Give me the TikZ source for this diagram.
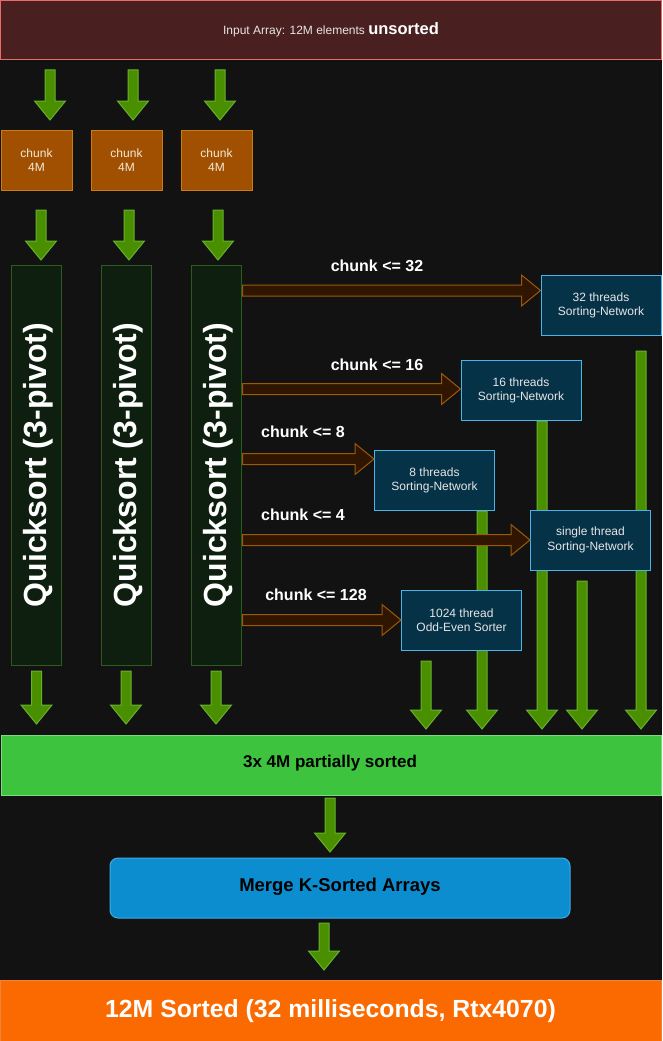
\documentclass[tikz,border=0pt]{standalone}
\usepackage{fontspec}
\setmainfont{Liberation Sans}
\usetikzlibrary{calc}
\definecolor{bg}{HTML}{121212}
\definecolor{inpfill}{HTML}{4A1F1F}
\definecolor{inpdraw}{HTML}{EA6B66}
\definecolor{chfill}{HTML}{A05000}
\definecolor{chdraw}{HTML}{C97D14}
\definecolor{chtext}{HTML}{F4EAD8}
\definecolor{gafill}{HTML}{4A8F00}
\definecolor{gadraw}{HTML}{66B22C}
\definecolor{qsfill}{HTML}{0F1F0F}
\definecolor{qsdraw}{HTML}{2D5A1E}
\definecolor{bafill}{HTML}{301600}
\definecolor{badraw}{HTML}{9A5A0A}
\definecolor{snfill}{HTML}{063247}
\definecolor{sndraw}{HTML}{4AB4E6}
\definecolor{sntext}{HTML}{E6E6E6}
\definecolor{partfill}{HTML}{3DC33D}
\definecolor{partdraw}{HTML}{7EDA7E}
\definecolor{mergefill}{HTML}{0B8DCF}
\definecolor{mergedraw}{HTML}{42A8E6}
\definecolor{finfill}{HTML}{FA6A00}
\definecolor{findraw}{HTML}{F2823A}
\tikzset{
  box/.style={draw, line width=1pt, inner sep=0pt, align=center},
  inpbox/.style={box, fill=inpfill, draw=inpdraw, minimum width=661pt, minimum height=59.5pt},
  chunkbox/.style={box, fill=chfill, draw=chdraw, text=chtext, minimum width=71pt, minimum height=60pt,
     font=\fontsize{12}{14.5}\selectfont},
  qsbox/.style={box, fill=qsfill, draw=qsdraw, minimum width=50pt, minimum height=400pt},
  qstext/.style={rotate=90, text=white, font=\fontsize{32}{36}\selectfont\bfseries},
  snbox/.style={box, fill=snfill, draw=sndraw, text=sntext, minimum width=120pt, minimum height=60pt,
     font=\fontsize{12}{14.5}\selectfont},
  lbl/.style={text=white, font=\fontsize{16}{18}\selectfont\bfseries},
  garrow/.style={fill=gafill, draw=gadraw, line width=1pt, line join=miter},
  barrow/.style={fill=bafill, draw=badraw, line width=1pt, line join=miter},
}
\newcommand\greenarrow[2]{%
  \draw[garrow] let \p1=(#1), \p2=(#2) in
    (\x1-5pt,\y1) -- (\x1-5pt,\y2+19pt) -- (\x1-15.5pt,\y2+19pt) -- (\x1,\y2)
    -- (\x1+15.5pt,\y2+19pt) -- (\x1+5pt,\y2+19pt) -- (\x1+5pt,\y1) -- cycle;}
\newcommand\brownarrow[3]{%
  \draw[barrow] let \p1=(#1), \p2=(#2), \p3=(0,#3) in
    (\x1+1pt,\y3+5.5pt) -- (\x2-19pt,\y3+5.5pt) -- (\x2-19pt,\y3+15.5pt) -- (\x2,\y3)
    -- (\x2-19pt,\y3-15.5pt) -- (\x2-19pt,\y3-5.5pt) -- (\x1+1pt,\y3-5.5pt) -- cycle;}
\begin{document}
\begin{tikzpicture}[x=1pt,y=-1pt]
\fill[bg] (0,0) rectangle (662,1041);
\useasboundingbox (0,0) rectangle (662,1041);

% free ends of the block arrows
\coordinate (t1s) at (50,70);   \coordinate (t1e) at (50,120);
\coordinate (t2s) at (133,70);  \coordinate (t2e) at (133,120);
\coordinate (t3s) at (220,70);  \coordinate (t3e) at (220,120);
\coordinate (c1s) at (41,210);  \coordinate (c1e) at (41,260);
\coordinate (c2s) at (129,210); \coordinate (c2e) at (129,260);
\coordinate (c3s) at (218,210); \coordinate (c3e) at (218,260);
\coordinate (q1s) at (36.5,671); \coordinate (q1e) at (36.5,724);
\coordinate (q2s) at (126,671);  \coordinate (q2e) at (126,724);
\coordinate (q3s) at (216,671);  \coordinate (q3e) at (216,724);
\coordinate (r1s) at (426,661); \coordinate (r1e) at (426,729);
\coordinate (r2s) at (482,511); \coordinate (r2e) at (482,729);
\coordinate (r3s) at (542,421); \coordinate (r3e) at (542,729);
\coordinate (r4s) at (582,581); \coordinate (r4e) at (582,729);
\coordinate (r5s) at (641,351); \coordinate (r5e) at (641,729);
\coordinate (m1s) at (330,798); \coordinate (m1e) at (330,852);
\coordinate (f1s) at (324,923); \coordinate (f1e) at (324,970);

% arrows that pass behind boxes
\greenarrow{r1s}{r1e}
\greenarrow{r2s}{r2e}
\greenarrow{r3s}{r3e}
\greenarrow{r4s}{r4e}
\greenarrow{r5s}{r5e}

% boxes
\node[inpbox] (inp) at (331,30.25) {\textcolor{sntext}{\fontsize{12}{14}\selectfont Input Array: 12M elements }\textcolor{white}{\fontsize{16.5}{18}\selectfont\bfseries unsorted}};

\node[chunkbox] (ch1) at (36.5,160) {chunk\\4M};
\node[chunkbox] (ch2) at (126.5,160) {chunk\\4M};
\node[chunkbox] (ch3) at (216.5,160) {chunk\\4M};

\node[qsbox] (qs1) at (36,465) {};
\node[qsbox] (qs2) at (126,465) {};
\node[qsbox] (qs3) at (216,465) {};
\node[qstext] (qst1) at ($(qs1)+(2,0)$) {Quicksort (3-pivot)};
\node[qstext] (qst2) at ($(qs2)+(2,0)$) {Quicksort (3-pivot)};
\node[qstext] (qst3) at ($(qs3)+(2,0)$) {Quicksort (3-pivot)};

\node[snbox] (b32) at (601,305.5) {32 threads\\Sorting-Network};
\node[snbox] (b16) at (521,390.5) {16 threads\\Sorting-Network};
\node[snbox] (b8) at (434.5,480.5) {8 threads\\Sorting-Network};
\node[snbox] (bsingle) at (590.5,540) {single thread\\Sorting-Network};
\node[snbox] (b1024) at (461.5,620) {1024 thread\\Odd-Even Sorter};

\node[box, fill=partfill, draw=partdraw, minimum width=660pt, minimum height=60pt] (part) at (331,765) {};
\node[font=\fontsize{17}{19}\selectfont\bfseries, text=black] (partt) at (330,763) {3x 4M partially sorted};

\node[box, fill=mergefill, draw=mergedraw, rounded corners=8pt, minimum width=460pt, minimum height=60pt] (merge) at (340,888) {};
\node[font=\fontsize{18.5}{21}\selectfont\bfseries, text=black] (merget) at (340,887) {Merge K-Sorted Arrays};

\node[box, fill=finfill, draw=findraw, minimum width=661pt, minimum height=61pt] (fin) at (331,1011) {};
\node[font=\fontsize{24.8}{27}\selectfont\bfseries, text=white] (fint) at (330.5,1011) {12M Sorted (32 milliseconds, Rtx4070)};

% brown arrows
\brownarrow{qs3.east}{b32.west}{290.5}
\brownarrow{qs3.east}{b16.west}{389}
\brownarrow{qs3.east}{b8.west}{459}
\brownarrow{qs3.east}{bsingle.west}{540}
\brownarrow{qs3.east}{b1024.west}{620}

\node[lbl] (l32) at (377,266) {chunk <= 32};
\node[lbl] (l16) at (377,365) {chunk <= 16};
\node[lbl] (l8) at (303,432) {chunk <= 8};
\node[lbl] (l4) at (303,515) {chunk <= 4};
\node[lbl] (l128) at (316,595) {chunk <= 128};

% green arrows
\greenarrow{t1s}{t1e}
\greenarrow{t2s}{t2e}
\greenarrow{t3s}{t3e}
\greenarrow{c1s}{c1e}
\greenarrow{c2s}{c2e}
\greenarrow{c3s}{c3e}
\greenarrow{q1s}{q1e}
\greenarrow{q2s}{q2e}
\greenarrow{q3s}{q3e}
\greenarrow{m1s}{m1e}
\greenarrow{f1s}{f1e}
\end{tikzpicture}
\end{document}
